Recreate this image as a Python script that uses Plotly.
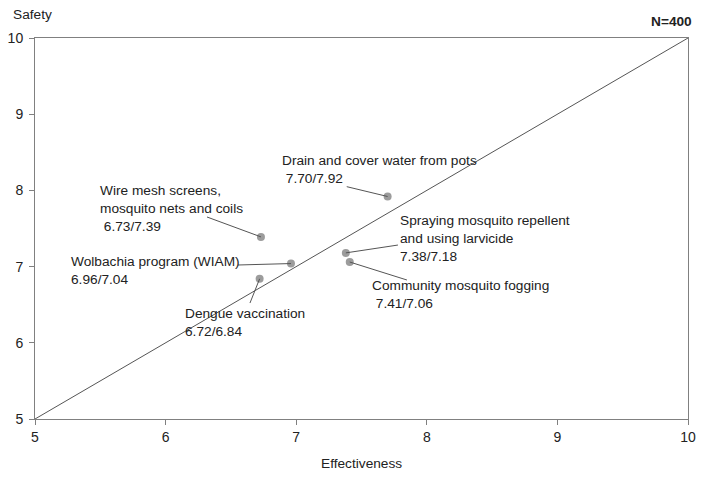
import plotly.graph_objects as go

# Data
names = ["Drain and cover water from pots", "Wire mesh screens,<br>mosquito nets and coils",
         "Wolbachia program (WIAM)", "Dengue vaccination",
         "Spraying mosquito repellent<br>and using larvicide", "Community mosquito fogging"]
effectiveness = [7.70, 6.73, 6.96, 6.72, 7.38, 7.41]
safety = [7.92, 7.39, 7.04, 6.84, 7.18, 7.06]
value_prefix = [" ", " ", "", "", "", " "]
x_ticks = [5, 6, 7, 8, 9, 10]
y_ticks = [5, 6, 7, 8, 9, 10]

# label placement (data coords): text block left-middle, and leader-line tail
label_pos = [(6.876, 8.268), (5.483, 7.762), (5.261, 6.949), (6.134, 6.273), (7.780, 7.369), (7.565, 6.634)]
tail_pos = [(7.387, 8.049), (6.317, 7.651), (6.554, 7.021), (6.646, 6.522), (7.779, 7.283), (7.848, 6.824)]

FONT = "Liberation Sans, Arial, sans-serif"
FS = 13.7
TFS = 14

fig = go.Figure()
fig.add_trace(go.Scatter(x=[5, 10], y=[5, 10], mode="lines",
                         line=dict(color="#555555", width=1), hoverinfo="skip", showlegend=False))
fig.add_trace(go.Scatter(x=effectiveness, y=safety, mode="markers",
                         marker=dict(color="#9c9c9c", size=8), showlegend=False))

annotations = []
shapes = []
for n, ex, sf, pre, lp, tp in zip(names, effectiveness, safety, value_prefix, label_pos, tail_pos):
    annotations.append(dict(x=lp[0], y=lp[1], xref="x", yref="y", showarrow=False,
                            text=f"{n}<br>{pre}{ex:.2f}/{sf:.2f}", align="left",
                            xanchor="left", yanchor="middle",
                            font=dict(family=FONT, size=FS, color="#222222")))
    shapes.append(dict(type="line", xref="x", yref="y", x0=tp[0], y0=tp[1], x1=ex, y1=sf,
                       line=dict(color="#555555", width=1)))

annotations.append(dict(x=-0.037, y=1.062, xref="paper", yref="paper", showarrow=False,
                        text="Safety", xanchor="left", yanchor="middle",
                        font=dict(family=FONT, size=FS, color="#222222")))
annotations.append(dict(x=1.009, y=1.044, xref="paper", yref="paper", showarrow=False,
                        text="<b>N=400</b>", xanchor="right", yanchor="middle",
                        font=dict(family=FONT, size=FS, color="#222222")))
annotations.append(dict(x=0.5, y=-0.118, xref="paper", yref="paper", showarrow=False,
                        text="Effectiveness", xanchor="center", yanchor="middle",
                        font=dict(family=FONT, size=FS, color="#222222")))

axis_common = dict(showgrid=False, zeroline=False, showline=True, linecolor="#808080",
                   linewidth=1, mirror=True, ticks="outside", ticklen=5, tickcolor="#808080",
                   automargin=False,
                   tickfont=dict(family=FONT, size=TFS, color="#222222"))

fig.update_layout(
    width=702, height=477,
    margin=dict(l=35, r=14, t=38, b=58),
    paper_bgcolor="white", plot_bgcolor="white",
    xaxis=dict(range=[5, 10], tickvals=x_ticks, **axis_common),
    yaxis=dict(range=[5, 10], tickvals=y_ticks, ticklabelstandoff=3, **axis_common),
    annotations=annotations, shapes=shapes,
)

fig.write_html("out.html")
